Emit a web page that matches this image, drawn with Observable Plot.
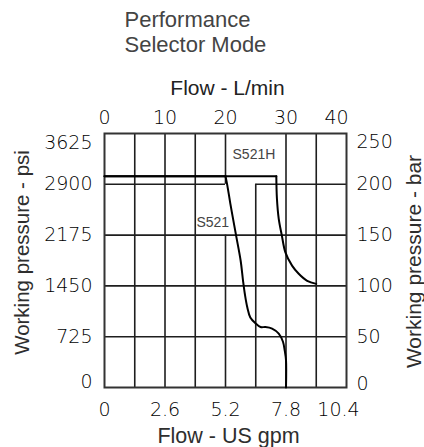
<!DOCTYPE html>
<html><head><meta charset="utf-8">
<script src="https://cdn.jsdelivr.net/npm/d3@7"></script>
<script src="https://cdn.jsdelivr.net/npm/@observablehq/plot@0.6"></script>
<style>body{margin:0;background:#fff;} svg{display:block;}</style>
</head><body><div id="chart"></div>
<script>
// Tick values (L/min and bar) with their labels
const flowLpm = [0, 10, 20, 30, 40];
const flowLpmLabels = ["0", "10", "20", "30", "40"];
const flowGpmLabels = ["0", "2.6", "5.2", "7.8", "10.4"];
const pressBar = [0, 50, 100, 150, 200, 250];
const pressBarLabels = ["0", "50", "100", "150", "200", "250"];
const pressPsiLabels = ["0", "725", "1450", "2175", "2900", "3625"];

// Curves (flow L/min, pressure bar)
const s521Flow  = [0, 20, 20.3, 20.8, 21.4, 21.8, 22.5, 22.9, 23.2, 23.6, 24.1, 25.0, 25.8, 26.6, 27.7, 28.8, 29.5, 29.8, 30, 30];
const s521Press = [208, 208, 199, 181, 161, 148, 125, 105, 92, 79, 69, 63, 59.5, 59.5, 58, 53, 45, 36, 27, 0];
const s521hFlow  = [0, 28.4, 28.5, 28.8, 29.3, 29.9, 31.0, 32.1, 33.5, 35];
const s521hPress = [208, 208, 186, 166, 150, 133, 120, 112, 105, 102];

const curveNames = ["S521H", "S521"];
const curveLabelFlow = [24.7, 17.9];
const curveLabelPress = [229, 162];

// Grid segments (irregular grid of the original)
const hGridY = [200, 200, 150, 100, 50];
const hGridFrom = [0, 25, 0, 0, 0];
const hGridTo = [20, 40, 40, 40, 40];
const vGridX = [5, 10, 15, 20, 20, 25, 30, 35];
const vGridFrom = [0, 0, 0, 0, 200, 0, 0, 0];
const vGridTo = [250, 250, 250, 150, 250, 200, 250, 250];

const s521 = s521Flow.map((x, i) => ({x, y: s521Press[i]}));
const s521h = s521hFlow.map((x, i) => ({x, y: s521hPress[i]}));
const hGrid = hGridY.map((y, i) => ({y, x1: hGridFrom[i], x2: hGridTo[i]}));
const vGrid = vGridX.map((x, i) => ({x, y1: vGridFrom[i], y2: vGridTo[i]}));
const labels = curveNames.map((t, i) => ({t, x: curveLabelFlow[i], y: curveLabelPress[i]}));
const topTicks = flowLpm.map((v, i) => ({v, t: flowLpmLabels[i]}));
const botTicks = flowLpm.map((v, i) => ({v, t: flowGpmLabels[i]}));
const leftTicks = pressBar.map((v, i) => ({v, t: pressPsiLabels[i]}));
const rightTicks = pressBar.map((v, i) => ({v, t: pressBarLabels[i]}));

const ink = "#1e1e1e";
const F = "Liberation Sans, Arial, sans-serif";
const TF = "DejaVu Sans, sans-serif";
const tick = {fontFamily: TF, fontSize: 19, fontWeight: 200, fill: "#000", lineAnchor: "middle"};
const ttl = {fontFamily: F, fill: "#2e2e2e", lineAnchor: "middle"};

const last = (a) => a.slice(-1);
const notLast = (a) => a.slice(0, -1);
const mid = (a) => a.slice(1, -1);
const lineOpts = {x: "x", y: "y", stroke: "#000", strokeWidth: 2};

const chart = Plot.plot({
  width: 424, height: 447,
  marginLeft: 104, marginRight: 78, marginTop: 133, marginBottom: 60,
  style: {fontFamily: F, background: "#fff"},
  x: {domain: [0, 40], axis: null},
  y: {domain: [0, 250], axis: null},
  marks: [
    Plot.ruleY(hGrid, {y: "y", x1: "x1", x2: "x2", stroke: ink, strokeWidth: 1.6}),
    Plot.ruleX(vGrid, {x: "x", y1: "y1", y2: "y2", stroke: ink, strokeWidth: 1.6}),
    Plot.frame({stroke: "#333", strokeWidth: 2}),
    // flat (pressure-limited) parts, then the drooping parts
    Plot.line(s521h.slice(0, 2), lineOpts),
    Plot.line(s521h.slice(1), {...lineOpts, curve: "catmull-rom"}),
    Plot.line(s521.slice(0, 2), lineOpts),
    Plot.line(s521.slice(1), {...lineOpts, curve: "catmull-rom"}),
    Plot.text(labels, {x: "x", y: "y", text: "t", fontFamily: F, fontSize: 14, fill: "#444"}),
    // top axis (L/min)
    Plot.text(notLast(topTicks), {...tick, x: "v", text: "t", frameAnchor: "top", dy: -16}),
    Plot.text(last(topTicks), {...tick, x: "v", text: "t", frameAnchor: "top", dy: -16, dx: -10}),
    Plot.text(["Flow - L/min"], {...ttl, frameAnchor: "top", dy: -45, dx: 2, fontSize: 21, fill: "#222"}),
    // bottom axis (US gpm)
    Plot.text(notLast(botTicks), {...tick, x: "v", text: "t", frameAnchor: "bottom", dy: 22}),
    Plot.text(last(botTicks), {...tick, x: "v", text: "t", frameAnchor: "bottom", dy: 22, dx: -8}),
    Plot.text(["Flow - US gpm"], {...ttl, frameAnchor: "bottom", dy: 49, dx: 3, fontSize: 21.5}),
    // left axis (psi)
    Plot.text(mid(leftTicks), {...tick, y: "v", text: "t", frameAnchor: "left", dx: -12, textAnchor: "end"}),
    Plot.text(last(leftTicks), {...tick, y: "v", text: "t", frameAnchor: "left", dx: -12, dy: 9, textAnchor: "end"}),
    Plot.text(leftTicks.slice(0, 1), {...tick, y: "v", text: "t", frameAnchor: "left", dx: -12, dy: -6, textAnchor: "end"}),
    Plot.text(["Working pressure - psi"], {...ttl, frameAnchor: "left", textAnchor: "middle", dx: -82, dy: -8, rotate: -90, fontSize: 20.5}),
    // right axis (bar)
    Plot.text(mid(rightTicks), {...tick, y: "v", text: "t", frameAnchor: "right", dx: 10, textAnchor: "start"}),
    Plot.text(last(rightTicks), {...tick, y: "v", text: "t", frameAnchor: "right", dx: 10, dy: 8, textAnchor: "start"}),
    Plot.text(rightTicks.slice(0, 1), {...tick, y: "v", text: "t", frameAnchor: "right", dx: 10, dy: -4, textAnchor: "start"}),
    Plot.text(["Working pressure - bar"], {...ttl, frameAnchor: "right", textAnchor: "middle", dx: 68, dy: 1, rotate: -90, fontSize: 21}),
    // title
    Plot.text(["Performance\nSelector Mode"], {...ttl, frameAnchor: "top-left", textAnchor: "start", dx: 20, dy: -102, lineHeight: 1.14, fontSize: 22, fill: "#444"})
  ]
});
document.getElementById("chart").append(chart);
</script>
</body></html>
